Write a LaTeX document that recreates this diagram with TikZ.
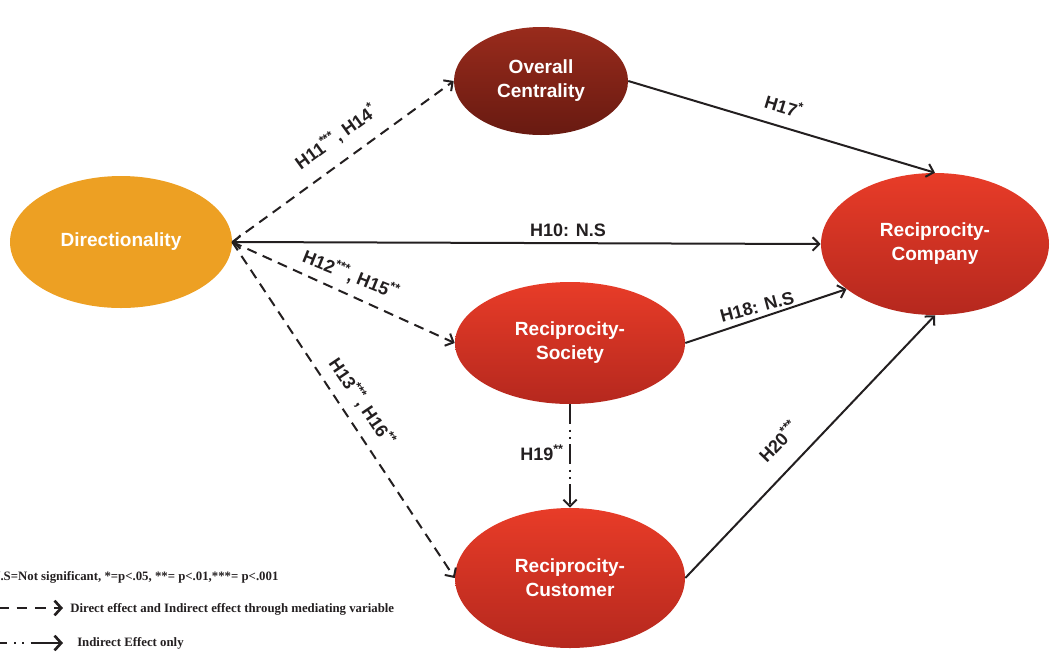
\documentclass[tikz,border=0pt]{standalone}
\usepackage{fontspec}
\setmainfont{Liberation Serif}
\setsansfont{Liberation Sans}
\usetikzlibrary{arrows.meta,shapes.geometric}

\definecolor{dirorange}{HTML}{EDA023}
\definecolor{redtop}{HTML}{E83C28}
\definecolor{redmid}{HTML}{D6301F}
\definecolor{redbot}{HTML}{B5281E}
\definecolor{browntop}{HTML}{992B1C}
\definecolor{brownmid}{HTML}{82231A}
\definecolor{brownbot}{HTML}{681A11}
\definecolor{ink}{HTML}{231F20}

\begin{document}
\begin{tikzpicture}[x=0.75pt,y=-0.75pt,
  construct/.style={ellipse, inner sep=0pt, text=white, align=center,
    font=\sffamily\bfseries\fontsize{14.3}{18}\selectfont},
  redvar/.style={construct, top color=redtop, middle color=redmid, bottom color=redbot},
  brownvar/.style={construct, top color=browntop, middle color=brownmid, bottom color=brownbot},
  orangevar/.style={construct, fill=dirorange},
  tip/.tip={Straight Barb[length=5pt,width=10pt]},
  link/.style={draw=ink, line width=1.5pt, -tip},
  dashlink/.style={link, dash pattern=on 7.5pt off 5pt},
  dotlink/.style={link, dash pattern=on 15pt off 4pt on 1.5pt off 4pt on 1.5pt off 4pt},
  hyp/.style={text=ink, inner sep=1pt, font=\sffamily\bfseries\fontsize{13.5}{16}\selectfont},
  legend/.style={text=ink, inner sep=0pt, anchor=base west,
    font=\rmfamily\bfseries\fontsize{9.6}{11}\selectfont},
  legendline/.style={draw=ink, line width=2pt, -{Straight Barb[length=5pt,width=11pt]}}
]
\useasboundingbox (0,0) rectangle (1050,651);

% constructs
\node[orangevar, minimum width=222*0.75pt, minimum height=132*0.75pt]
  (dir) at (121,242) {Directionality};
\node[brownvar, minimum width=174*0.75pt, minimum height=108*0.75pt]
  (oc) at (541,81) {Overall\\Centrality};
\node[redvar, minimum width=228*0.75pt, minimum height=142*0.75pt]
  (comp) at (935,244) {Reciprocity-\\Company};
\node[redvar, minimum width=230*0.75pt, minimum height=122*0.75pt]
  (soc) at (570,343) {Reciprocity-\\Society};
\node[redvar, minimum width=230*0.75pt, minimum height=140*0.75pt]
  (cust) at (570,578) {Reciprocity-\\Customer};

% paths
\draw[link, tip-tip] (dir.east) -- (comp.west);
\draw[dashlink] (dir.east) -- (oc.west);
\draw[dashlink] (dir.east) -- (soc.west);
\draw[dashlink] (dir.east) -- (cust.west);
\draw[link] (oc.east) -- (comp.north);
\draw[link] (soc.east) -- (comp.207);
\draw[link] (cust.east) -- (comp.south);
\draw[dotlink] (soc.south) -- (cust.north);

% hypothesis labels
\node[hyp] (l10) at (568,230) {H10: N.S};
\node[hyp, rotate=36] (l11) at (336,137) {H11\textsuperscript{***}, H14\textsuperscript{*}};
\node[hyp, rotate=-22] (l12) at (351,275) {H12\textsuperscript{***}, H15\textsuperscript{**}};
\node[hyp, rotate=-56] (l13) at (362,402) {H13\textsuperscript{***}, H16\textsuperscript{**}};
\node[hyp, rotate=-17] (l17) at (784,106) {H17\textsuperscript{*}};
\node[hyp, rotate=15] (l18) at (757,307) {H18: N.S};
\node[hyp] (l19) at (542,453) {H19\textsuperscript{**}};
\node[hyp, rotate=46] (l20) at (778,441) {H20\textsuperscript{***}};

% legend
\node[legend] (key) at (-9,580) {N.S=Not significant, *=p<.05, **= p<.01,***= p<.001};
\coordinate (d0) at (-2,608);
\coordinate (d1) at (63,608);
\draw[legendline, dash pattern=on 8pt off 6pt] (d0) -- (d1);
\node[legend] (keyd) at (70,612) {Direct effect and Indirect effect through mediating variable};
\coordinate (i0) at (-2,643);
\coordinate (i1) at (63,643);
\draw[legendline, dash pattern=on 7pt off 5pt on 1.5pt off 4.5pt on 1.5pt off 5pt on 40pt] (i0) -- (i1);
\node[legend] (keyi) at (77,646) {Indirect Effect only};
\end{tikzpicture}
\end{document}
